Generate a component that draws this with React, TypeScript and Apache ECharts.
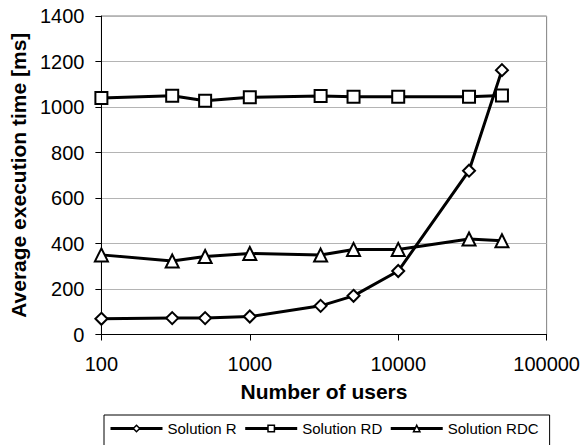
import React, { useEffect, useRef } from "react";
import * as echarts from "echarts";

const users = [100, 300, 500, 1000, 3000, 5000, 10000, 30000, 50000];
const solutionR = [69, 72, 72, 79, 126, 170, 279, 720, 1162];
const solutionRD = [1040, 1049, 1027, 1043, 1048, 1045, 1045, 1045, 1051];
const solutionRDC = [350, 323, 343, 356, 349, 374, 374, 420, 412];
const seriesNames = ["Solution R", "Solution RD", "Solution RDC"];
const yTicks = { min: 0, max: 1400, interval: 200 };
const xRange = { min: 100, max: 100000 };

const FONT = "Liberation Sans, Arial, sans-serif";

export default function App() {
  const ref = useRef<HTMLDivElement>(null);
  useEffect(() => {
    document.body.style.margin = "0";
    if (!ref.current) return;
    const chart = echarts.init(ref.current, null, { renderer: "svg" });
    const mk = (name: string, vals: number[], symbol: string, size: number) => ({
      name,
      type: "line",
      data: users.map((u, i) => [u, vals[i]]),
      symbol,
      symbolSize: size,
      showSymbol: true,
      lineStyle: { color: "#000", width: 3 },
      itemStyle: { color: "#fff", borderColor: "#000", borderWidth: 2 },
      emphasis: { disabled: true },
      z: 3,
    });
    chart.setOption({
      animation: false,
      backgroundColor: "#fff",
      textStyle: { fontFamily: FONT, color: "#000" },
      grid: {
        left: 99,
        right: 35,
        top: 16,
        bottom: 110.5,
        show: true,
        borderColor: "#808080",
        borderWidth: 1,
        backgroundColor: "transparent",
      },
      legend: {
        data: seriesNames,
        left: 104,
        top: 415,
        orient: "horizontal",
        itemWidth: 52,
        itemHeight: 8,
        itemGap: 7,
        padding: [6, 11, 30, 5],
        borderColor: "#000",
        borderWidth: 1,
        backgroundColor: "#fff",
        lineStyle: { width: 3, color: "#000" },
        itemStyle: { color: "#fff", borderColor: "#000", borderWidth: 1.5 },
        textStyle: { fontFamily: FONT, fontSize: 15, color: "#000" },
        selectedMode: false,
      },
      xAxis: {
        type: "log",
        logBase: 10,
        min: xRange.min,
        max: xRange.max,
        name: "Number of users",
        nameLocation: "middle",
        nameGap: 46,
        nameTextStyle: { fontFamily: FONT, fontSize: 21, fontWeight: "bold", color: "#000" },
        axisLine: { show: true, lineStyle: { color: "#000", width: 1 } },
        axisTick: { show: true, length: 6, lineStyle: { color: "#000" } },
        minorTick: { show: false },
        splitLine: { show: false },
        axisLabel: {
          margin: 19,
          fontFamily: FONT,
          fontSize: 20,
          color: "#000",
          formatter: (v: number) => String(Math.round(v)),
        },
      },
      yAxis: {
        type: "value",
        min: yTicks.min,
        max: yTicks.max,
        interval: yTicks.interval,
        name: "Average execution time [ms]",
        nameLocation: "middle",
        nameGap: 71,
        nameTextStyle: { fontFamily: FONT, fontSize: 21, fontWeight: "bold", color: "#000" },
        axisLine: { show: true, lineStyle: { color: "#000", width: 1 } },
        axisTick: { show: true, length: 6, lineStyle: { color: "#000" } },
        splitLine: { show: true, lineStyle: { color: "#b4b4b4", width: 1 } },
        axisLabel: {
          margin: 17,
          fontFamily: FONT,
          fontSize: 20,
          color: "#000",
          formatter: (v: number) => String(v),
        },
      },
      series: [
        mk(seriesNames[0], solutionR, "diamond", 12),
        mk(seriesNames[1], solutionRD, "rect", 12),
        mk(seriesNames[2], solutionRDC, "triangle", 13),
      ],
    });
    return () => chart.dispose();
  }, []);
  return <div ref={ref} style={{ width: 583, height: 445 }} />;
}
